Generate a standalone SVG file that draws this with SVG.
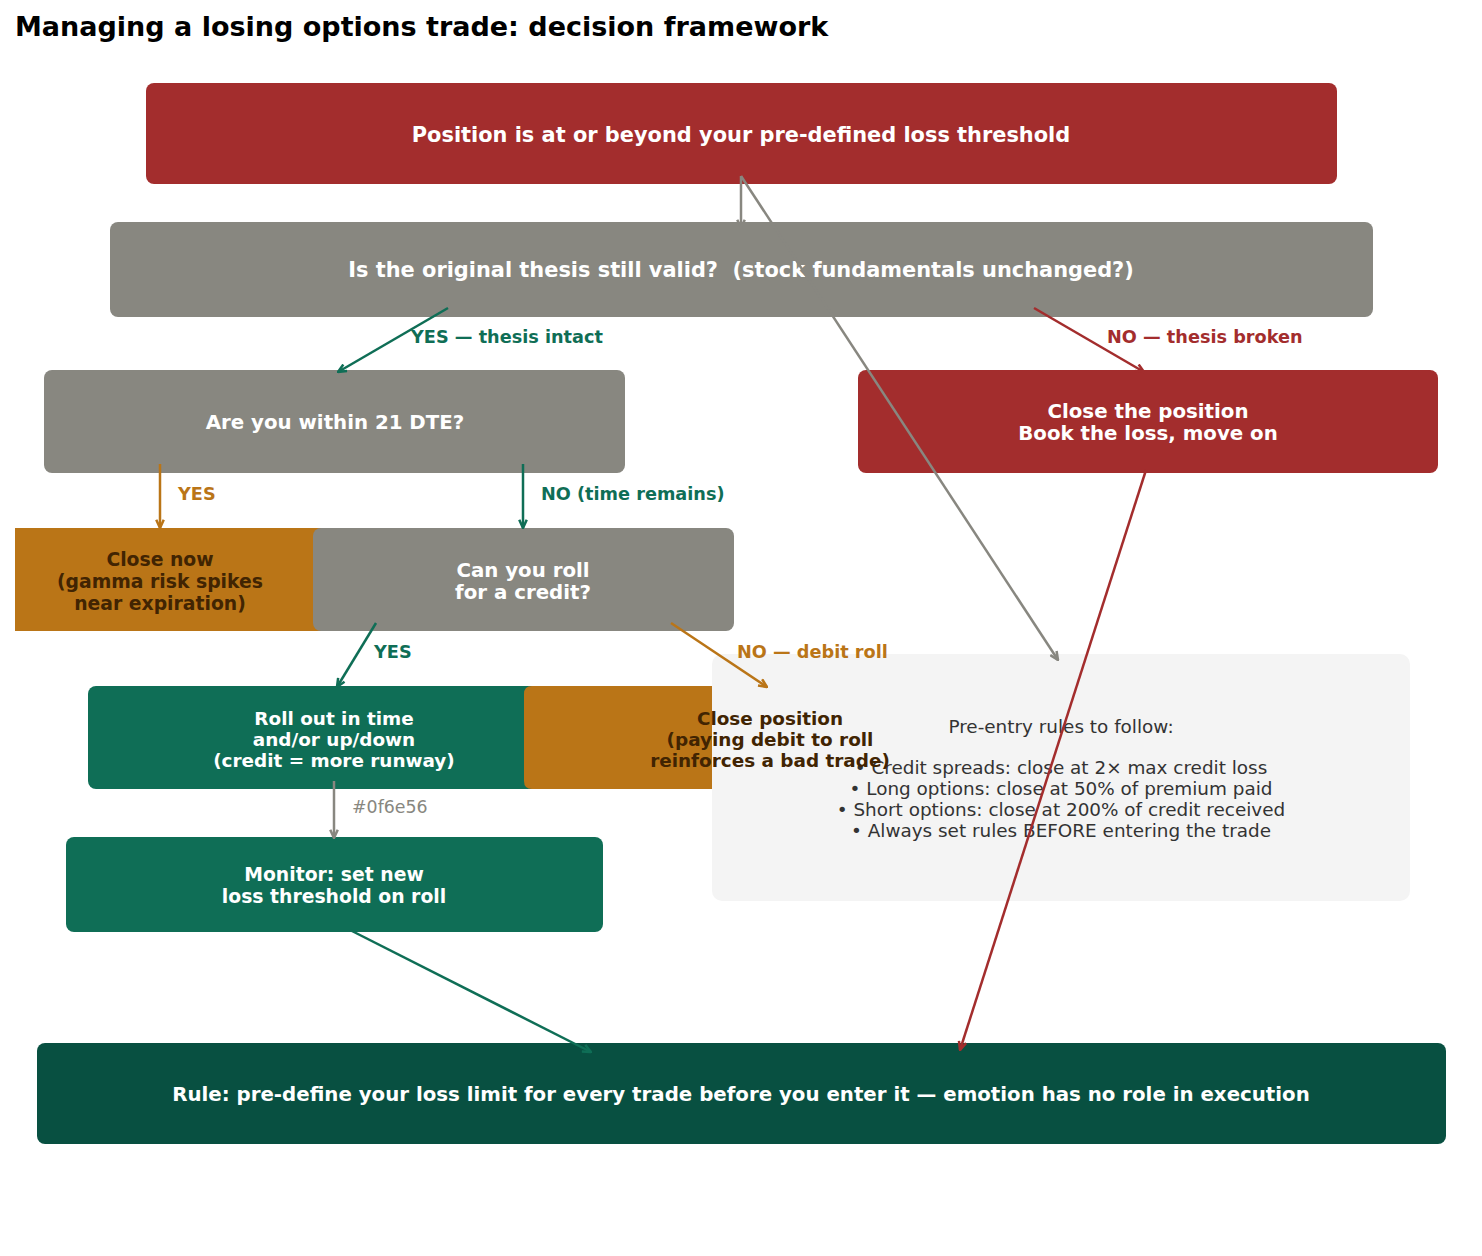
<svg xmlns="http://www.w3.org/2000/svg" width="1482" height="1256" viewBox="0 0 1482 1256">
<style>
text{font-family:"DejaVu Sans","Liberation Sans",sans-serif;white-space:pre}
.b{font-weight:bold}
.w{fill:#ffffff}
.br{fill:#412402}
.title{font-size:27px;font-weight:bold;fill:#000}
.ln{fill:none;stroke-width:2.5}
.lbl{font-size:17.7px;font-weight:bold}
</style>
<defs>
<marker id="ag" viewBox="0 0 12 12" refX="11" refY="6" markerWidth="10" markerHeight="10" markerUnits="userSpaceOnUse" orient="auto"><path d="M1,1.5 L11,6 L1,10.5" fill="none" stroke="#888780" stroke-width="3"/></marker>
<marker id="ar" viewBox="0 0 12 12" refX="11" refY="6" markerWidth="10" markerHeight="10" markerUnits="userSpaceOnUse" orient="auto"><path d="M1,1.5 L11,6 L1,10.5" fill="none" stroke="#a32d2d" stroke-width="3"/></marker>
<marker id="agr" viewBox="0 0 12 12" refX="11" refY="6" markerWidth="10" markerHeight="10" markerUnits="userSpaceOnUse" orient="auto"><path d="M1,1.5 L11,6 L1,10.5" fill="none" stroke="#0f6e56" stroke-width="3"/></marker>
<marker id="ao" viewBox="0 0 12 12" refX="11" refY="6" markerWidth="10" markerHeight="10" markerUnits="userSpaceOnUse" orient="auto"><path d="M1,1.5 L11,6 L1,10.5" fill="none" stroke="#ba7517" stroke-width="3"/></marker>
<clipPath id="clipL"><rect x="15" y="0" width="1467" height="1256"/></clipPath>
</defs>
<rect width="1482" height="1256" fill="#ffffff"/>
<text class="title" x="15" y="36">Managing a losing options trade: decision framework</text>

<g id="n-threshold">
<rect x="146" y="83" width="1191" height="101" rx="8" fill="#a32d2d"/>
<text class="b w" x="741" y="141.5" text-anchor="middle" font-size="20.9">Position is at or beyond your pre-defined loss threshold</text>
</g>
<g id="n-thesis">
<rect x="110" y="222" width="1263" height="95" rx="8" fill="#888780"/>
<text class="b w" x="741" y="276.5" text-anchor="middle" font-size="20.9">Is the original thesis still valid?  (stock fundamentals unchanged?)</text>
</g>
<g id="n-dte">
<rect x="44" y="370" width="581" height="103" rx="8" fill="#888780"/>
<text class="b w" x="335" y="429" text-anchor="middle" font-size="19.8">Are you within 21 DTE?</text>
</g>
<g id="n-close-broken">
<rect x="858" y="370" width="580" height="103" rx="8" fill="#a32d2d"/>
<text class="b w" text-anchor="middle" font-size="19.8"><tspan x="1148" y="418">Close the position</tspan><tspan x="1148" y="440">Book the loss, move on</tspan></text>
</g>
<g id="n-close-now" clip-path="url(#clipL)">
<rect x="-45" y="528" width="410" height="103" rx="8" fill="#ba7517"/>
<text class="b br" text-anchor="middle" font-size="18.8"><tspan x="160" y="566">Close now</tspan><tspan x="160" y="588">(gamma risk spikes</tspan><tspan x="160" y="610">near expiration)</tspan></text>
</g>
<g id="n-roll-credit">
<rect x="313" y="528" width="421" height="103" rx="8" fill="#888780"/>
<text class="b w" text-anchor="middle" font-size="19.8"><tspan x="523" y="577">Can you roll</tspan><tspan x="523" y="599">for a credit?</tspan></text>
</g>
<g id="n-rules">
<rect x="712" y="654" width="698" height="247" rx="10" fill="#f4f4f4"/>
<text fill="#333333" text-anchor="middle" font-size="18.4"><tspan x="1061" y="732.5">Pre-entry rules to follow:</tspan><tspan x="1061" y="774">• Credit spreads: close at 2× max credit loss</tspan><tspan x="1061" y="794.5">• Long options: close at 50% of premium paid</tspan><tspan x="1061" y="815.5">• Short options: close at 200% of credit received</tspan><tspan x="1061" y="836.5">• Always set rules BEFORE entering the trade</tspan></text>
</g>
<g id="n-roll-out">
<rect x="88" y="686" width="488" height="103" rx="8" fill="#0f6e56"/>
<text class="b w" text-anchor="middle" font-size="18.4"><tspan x="334" y="724.5">Roll out in time</tspan><tspan x="334" y="745.5">and/or up/down</tspan><tspan x="334" y="766.5">(credit = more runway)</tspan></text>
</g>
<g id="n-close-debit">
<path d="M532,686 H712 V789 H532 Q524,789 524,781 V694 Q524,686 532,686 Z" fill="#ba7517"/>
<text class="b br" text-anchor="middle" font-size="18.4"><tspan x="770" y="724.5">Close position</tspan><tspan x="770" y="745.5">(paying debit to roll</tspan><tspan x="770" y="766.5">reinforces a bad trade)</tspan></text>
</g>
<g id="n-monitor">
<rect x="66" y="837" width="537" height="95" rx="8" fill="#0f6e56"/>
<text class="b w" text-anchor="middle" font-size="18.8"><tspan x="334" y="881">Monitor: set new</tspan><tspan x="334" y="903">loss threshold on roll</tspan></text>
</g>
<g id="n-rule">
<rect x="37" y="1043" width="1409" height="101" rx="8" fill="#085041"/>
<text class="b w" x="741" y="1101" text-anchor="middle" font-size="19.8">Rule: pre-define your loss limit for every trade before you enter it — emotion has no role in execution</text>
</g>

<g id="connectors">
<line class="ln" x1="741" y1="176" x2="741" y2="228" stroke="#888780" marker-end="url(#ag)"/>
<line class="ln" x1="741" y1="176" x2="1058" y2="660" stroke="#888780" marker-end="url(#ag)"/>
<line class="ln" x1="448" y1="308" x2="338" y2="372" stroke="#0f6e56" marker-end="url(#agr)"/>
<text class="lbl" x="411" y="343" fill="#0f6e56">YES — thesis intact</text>
<line class="ln" x1="1034" y1="308" x2="1144" y2="372" stroke="#a32d2d" marker-end="url(#ar)"/>
<text class="lbl" x="1107" y="343" fill="#a32d2d">NO — thesis broken</text>
<line class="ln" x1="160" y1="464" x2="160" y2="528" stroke="#ba7517" marker-end="url(#ao)"/>
<text class="lbl" x="178" y="500" fill="#ba7517">YES</text>
<line class="ln" x1="523" y1="464" x2="523" y2="528" stroke="#0f6e56" marker-end="url(#agr)"/>
<text class="lbl" x="541" y="500" fill="#0f6e56">NO (time remains)</text>
<line class="ln" x1="376" y1="623" x2="337" y2="687" stroke="#0f6e56" marker-end="url(#agr)"/>
<text class="lbl" x="374" y="658" fill="#0f6e56">YES</text>
<line class="ln" x1="671" y1="623" x2="767" y2="687" stroke="#ba7517" marker-end="url(#ao)"/>
<text class="lbl" x="737" y="658" fill="#ba7517">NO — debit roll</text>
<line class="ln" x1="334" y1="781" x2="334" y2="838" stroke="#888780" marker-end="url(#ag)"/>
<text x="352" y="813" font-size="17.4" fill="#888780">#0f6e56</text>
<line class="ln" x1="350" y1="930" x2="591" y2="1052" stroke="#0f6e56" marker-end="url(#agr)"/>
<line class="ln" x1="1146" y1="470" x2="960" y2="1050" stroke="#a32d2d" marker-end="url(#ar)"/>
</g>
</svg>
